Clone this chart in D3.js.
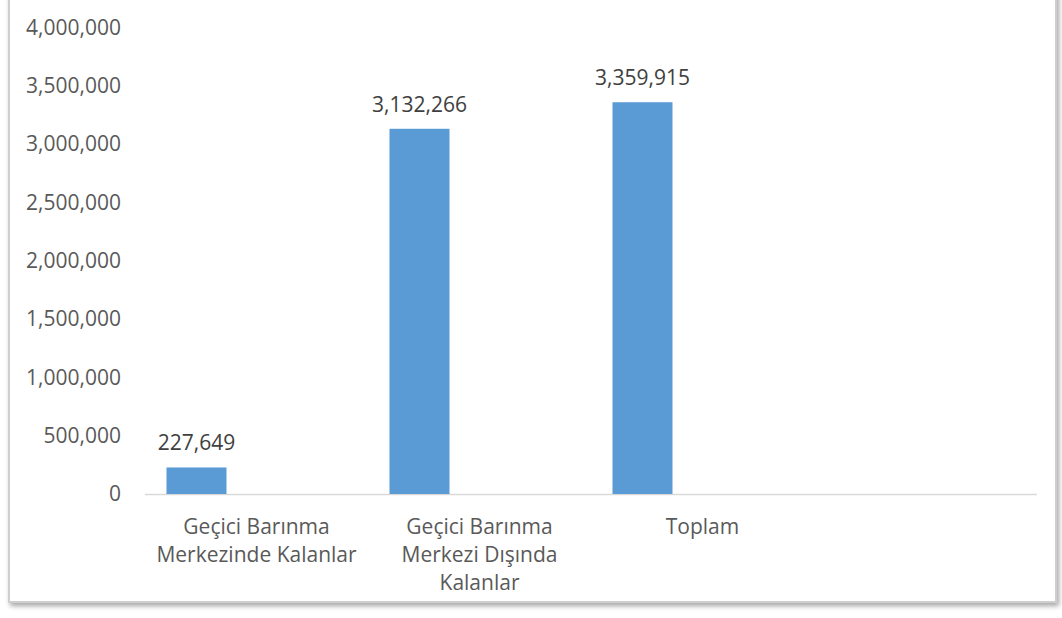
<!DOCTYPE html>
<html><head><meta charset="utf-8">
<script src="https://cdn.jsdelivr.net/npm/d3@7"></script>
<style>html,body{margin:0;padding:0;background:#fff;}</style>
</head><body>
<svg id="c" width="1062" height="618"></svg>
<script>
const categories = [["Geçici Barınma","Merkezinde Kalanlar"],["Geçici Barınma","Merkezi Dışında","Kalanlar"],["Toplam"],[]];
const values = [227649, 3132266, 3359915, null];
const yTicks = [0,500000,1000000,1500000,2000000,2500000,3000000,3500000,4000000];
const seriesSlots = ["s1","s2","s3"];

const svg = d3.select("#c");
const defs = svg.append("defs");
const f = defs.append("filter").attr("id","sh").attr("x","-5%").attr("y","-5%").attr("width","110%").attr("height","115%");
f.append("feDropShadow").attr("dx",2).attr("dy",3).attr("stdDeviation",2.5).attr("flood-color","#000").attr("flood-opacity",0.35);
svg.append("rect").attr("x",9).attr("y",-10).attr("width",1047).attr("height",612)
  .attr("fill","#fff").attr("stroke","#cfcfcf").attr("stroke-width",2).attr("filter","url(#sh)");

const font = "'Open Sans', sans-serif";
const fs = 21;
const L = 145, R = 1037, T = 27.6, B = 494;
const x = d3.scaleBand().domain(d3.range(categories.length)).range([L,R]).paddingInner(0).paddingOuter(0);
const xs = d3.scaleBand().domain(seriesSlots).range([0,x.bandwidth()]).paddingInner(0).paddingOuter(0.358);
const y = d3.scaleLinear().domain([0,4000000]).range([B,T]);
const fmt = d3.format(",");

const yAxis = d3.axisLeft(y).tickValues(yTicks).tickFormat(fmt).tickSize(0).tickPadding(0);
const ga = svg.append("g").attr("transform",`translate(121,0)`).call(yAxis);
ga.select(".domain").remove();
ga.selectAll("text").attr("font-family",font).attr("font-size",fs).attr("fill","#595959");

svg.append("line").attr("x1",L).attr("x2",R).attr("y1",y(0)+0.5).attr("y2",y(0)+0.5).attr("stroke","#d9d9d9").attr("stroke-width",1.5);

const data = values.map((v,i)=>({i,v})).filter(d=>d.v!=null);
svg.selectAll("rect.bar").data(data).join("rect").attr("class","bar")
  .attr("x",d=>x(d.i)+xs("s1")).attr("width",xs.bandwidth())
  .attr("y",d=>y(d.v)).attr("height",d=>y(0)-y(d.v)).attr("fill","#5b9bd5");

svg.selectAll("text.lab").data(data).join("text").attr("class","lab")
  .attr("x",d=>x(d.i)+xs("s1")+xs.bandwidth()/2).attr("y",d=>y(d.v)-17)
  .attr("text-anchor","middle").attr("font-family",font).attr("font-size",fs).attr("fill","#404040")
  .text(d=>fmt(d.v));

categories.forEach((lines,i)=>{
  const t = svg.append("text").attr("x",x(i)+x.bandwidth()/2).attr("y",534)
    .attr("text-anchor","middle").attr("font-family",font).attr("font-size",fs).attr("fill","#595959");
  lines.forEach((ln,j)=>t.append("tspan").attr("x",x(i)+x.bandwidth()/2).attr("dy",j?28:0).text(ln));
});
</script>
</body></html>
